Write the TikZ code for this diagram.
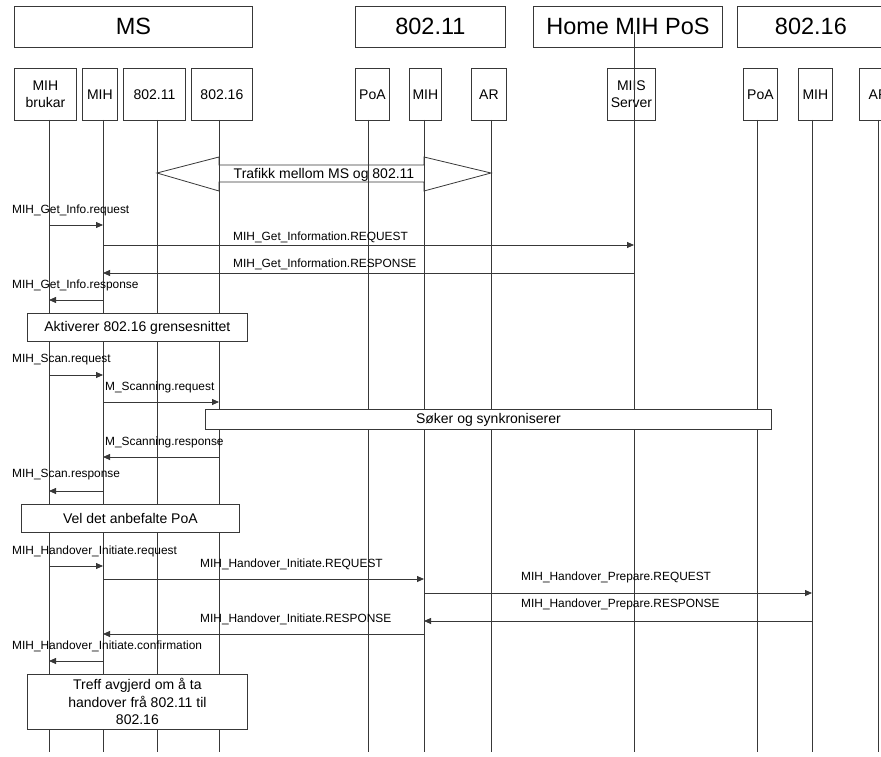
\documentclass[tikz,border=0pt]{standalone}
\usepackage{fontspec}
\setmainfont{Liberation Sans}
\usetikzlibrary{arrows.meta}
\begin{document}
\begin{tikzpicture}[x=1pt,y=-1pt,
  line/.style={draw=black!78,line width=0.8pt},
  hdr/.style={line,fill=white,anchor=north west,minimum height=41pt,inner sep=0pt,font=\fontsize{23.5}{26}\selectfont},
  ent/.style={line,fill=white,anchor=north west,minimum height=52pt,inner sep=0pt,align=center,font=\fontsize{14}{16.5}\selectfont},
  life/.style={line},
  msg/.style={line,-{Triangle[length=7pt,width=6pt]}},
  lbl/.style={anchor=west,inner sep=0pt,font=\fontsize{11.9}{13}\selectfont},
  note/.style={line,fill=white,anchor=north west,inner sep=0pt,align=center,font=\fontsize{14}{17.5}\selectfont}]
\useasboundingbox (0,0) rectangle (881,757);
\clip (0,0) rectangle (881,757);
\fill[white] (0,0) rectangle (881,757);

% headers
\node[hdr,minimum width=238pt] (hMS) at (14,6) {MS};
\node[hdr,minimum width=150pt] (h11) at (355,6) {802.11};
\node[hdr,minimum width=189pt] (hPoS) at (533,6) {Home MIH PoS};
\node[hdr,minimum width=147pt] (h16) at (737,6) {802.16};

% entities
\node[ent,minimum width=62pt] (eU) at (14,68) {MIH\\brukar};
\node[ent,minimum width=35pt] (eM) at (82,68) {MIH};
\node[ent,minimum width=62pt] (eA) at (123,68) {802.11};
\node[ent,minimum width=61pt] (eB) at (191,68) {802.16};
\node[ent,minimum width=34pt] (eP1) at (355,68) {PoA};
\node[ent,minimum width=32pt] (eM1) at (409,68) {MIH};
\node[ent,minimum width=35pt] (eR1) at (471,68) {AR};
\node[ent,minimum width=48pt] (eS) at (607,68) {MIIS\\Server};
\node[ent,minimum width=34pt] (eP2) at (743,68) {PoA};
\node[ent,minimum width=34pt] (eM2) at (798,68) {MIH};
\node[ent,minimum width=38pt] (eR2) at (859,68) {AR};

% lifeline tops and bottoms
\foreach \n/\x in {U/49,M/103,A/157,B/219,P1/368,M1/424,R1/491,P2/757,M2/812,R2/878}{
  \coordinate (t\n) at (\x,120);
  \coordinate (b\n) at (\x,752);
  \draw[life] (t\n) -- (b\n);
}
\coordinate (tS) at (634,32);
\coordinate (bS) at (634,752);
\draw[life] (tS) -- (bS);

% traffic double arrow
\draw[line] (157,173) -- (219,157) -- (219,165) -- (424,165) -- (424,157) -- (491,173)
  -- (424,191) -- (424,182) -- (219,182) -- (219,191) -- cycle;
\node[inner sep=0pt,font=\fontsize{14}{16}\selectfont] (traf) at (324,175) {Trafikk mellom MS og 802.11};

% row coordinates
\foreach \r/\y in {1/225,2/245,3/273,4/300,5/375,6/402,7/457,8/491,9/566,10/579,11/593,12/621,13/634,14/661}{
  \coordinate (r\r) at (0,\y);
}

% messages
\node[lbl] (l1) at (12,210) {MIH\_Get\_Info.request};
\draw[msg] (tU |- r1) -- (tM |- r1);
\node[lbl] (l2) at (233,237) {MIH\_Get\_Information.REQUEST};
\draw[msg] (tM |- r2) -- (tS |- r2);
\node[lbl] (l3) at (233,264) {MIH\_Get\_Information.RESPONSE};
\draw[msg] (tS |- r3) -- (tM |- r3);
\node[lbl] (l4) at (12,285) {MIH\_Get\_Info.response};
\draw[msg] (tM |- r4) -- (tU |- r4);

\node[note,minimum width=220pt,minimum height=28pt] (akt) at (27,313) {Aktiverer 802.16 grensesnittet};

\node[lbl] (l5) at (12,360) {MIH\_Scan.request};
\draw[msg] (tU |- r5) -- (tM |- r5);
\node[lbl] (l6) at (105,387) {M\_Scanning.request};
\draw[msg] (tM |- r6) -- (tB |- r6);

\node[note,minimum width=566pt,minimum height=20pt] (sok) at (205,409) {Søker og synkroniserer};

\node[lbl] (l7) at (105,442) {M\_Scanning.response};
\draw[msg] (tB |- r7) -- (tM |- r7);
\node[lbl] (l8) at (12,475) {MIH\_Scan.response};
\draw[msg] (tM |- r8) -- (tU |- r8);

\node[note,minimum width=218pt,minimum height=28pt] (vel) at (21,504) {Vel det anbefalte PoA};

\node[lbl] (l9) at (12,551) {MIH\_Handover\_Initiate.request};
\draw[msg] (tU |- r9) -- (tM |- r9);
\node[lbl] (l10) at (200,564) {MIH\_Handover\_Initiate.REQUEST};
\draw[msg] (tM |- r10) -- (tM1 |- r10);
\node[lbl] (l11) at (521,577) {MIH\_Handover\_Prepare.REQUEST};
\draw[msg] (tM1 |- r11) -- (tM2 |- r11);
\node[lbl] (l12) at (521,604) {MIH\_Handover\_Prepare.RESPONSE};
\draw[msg] (tM2 |- r12) -- (tM1 |- r12);
\node[lbl] (l13) at (200,619) {MIH\_Handover\_Initiate.RESPONSE};
\draw[msg] (tM1 |- r13) -- (tM |- r13);
\node[lbl] (l14) at (12,646) {MIH\_Handover\_Initiate.confirmation};
\draw[msg] (tM |- r14) -- (tU |- r14);

\node[note,minimum width=220pt,minimum height=55pt] (treff) at (27,674) {Treff avgjerd om å ta\\handover frå 802.11 til\\802.16};
\end{tikzpicture}
\end{document}
